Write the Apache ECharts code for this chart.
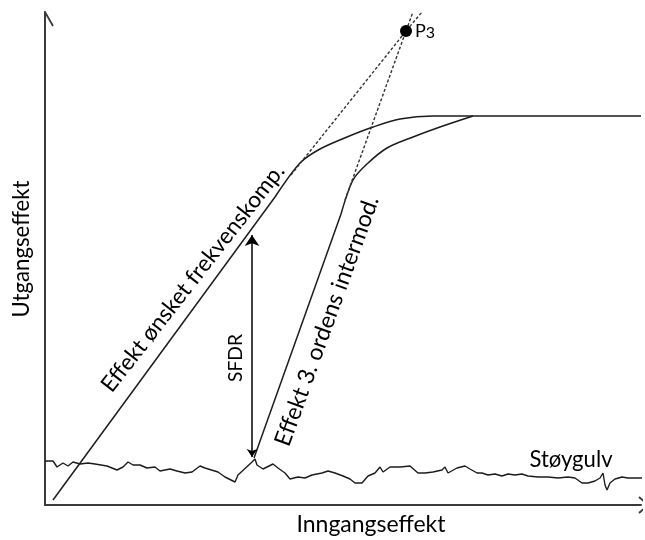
<!DOCTYPE html>
<html><head><meta charset="utf-8">
<script src="https://cdn.jsdelivr.net/npm/echarts/dist/echarts.min.js"></script>
<style>html,body{margin:0;padding:0;background:#fff}#c{width:645px;height:540px}</style>
</head><body><div id="c"></div>
<script>
// Diagram units: x = input power, y = output power (arbitrary linear units)
const desiredLine = [[8,5],[230,308]];
const desiredCurve = [[230,308],[255,342],[275,356],[302,368],[328,378],[355,386],[388,389],[428,389],[596,389]];
const desiredExtension = [[246,330],[361,474],[377,493]];
const im3Line = [[209,47],[296,291]];
const im3Curve = [[296,291],[308,325],[322,341],[342,357],[368,368],[395,378],[428,389]];
const im3Extension = [[300,305],[361,474],[368,493]];
const interceptPoint = [[361,474]];
const sfdrRange = [[207,48],[207,270]];
const noiseFloor = [[0,44],[8,44],[12,38],[18,42],[23,39],[28,43],[35,41],[43,42],[50,41],[62,39],[72,35],[78,38],[83,43],[88,40],[95,40],[102,37],[110,38],[115,34],[125,36],[132,34],[140,32],[147,33],[155,39],[160,37],[173,33],[180,28],[190,23],[193,30],[207,43],[210,46],[212,40],[218,36],[222,38],[228,41],[233,37],[240,32],[245,26],[253,28],[260,27],[267,30],[277,32],[283,34],[290,32],[292,30],[298,29],[305,26],[310,22],[317,22],[323,29],[330,32],[335,38],[338,33],[345,38],[355,38],[365,39],[373,32],[380,32],[388,33],[397,35],[400,38],[403,32],[412,37],[420,39],[425,36],[432,32],[437,32],[443,30],[450,31],[457,29],[463,31],[470,30],[477,31],[483,29],[493,28],[503,28],[513,27],[523,28],[530,27],[537,22],[543,22],[550,24],[555,27],[558,32],[560,20],[562,15],[565,22],[570,26],[577,28],[583,27],[590,27],[597,27]];
const yArrow = [[-8,479],[0,493],[8,479]];
const xArrow = [[594,8],[603,0],[594,-8]];

const FONT = 'Lato';
const INK = '#1c1c1c';
const texts = [
  {t:'Utgangseffekt', at:[-23,256], rot:90, w:137},
  {t:'Inngangseffekt', at:[326,-20], rot:0, w:149},
  {t:'Støygulv', at:[526,45], rot:0, w:83},
  {t:'SFDR', at:[191,147], rot:90, w:48},
  {t:'Effekt ønsket frekvenskomp.', at:[148,227], rot:52, w:282},
  {t:'Effekt 3. ordens intermod.', at:[282,184], rot:70, w:265}
];
const mctx = document.createElement('canvas').getContext('2d');
function fit(text, w){ mctx.font = '100px ' + FONT; return 100*w/mctx.measureText(text).width; }

const chart = echarts.init(document.getElementById('c'), null, {renderer:'canvas'});
const solid = {color:INK, width:1.5, opacity:1};
const dashed = {color:'#333', width:1.4, type:[3,2], opacity:1};
function line(data, style, smooth){
  return {type:'line', data, showSymbol:false, symbol:'none', clip:false, lineStyle:style, smooth:smooth||false, z:3};
}
chart.setOption({
  animation:false,
  backgroundColor:'#fff',
  grid:{left:45, top:12, right:4, bottom:35},
  xAxis:{type:'value', min:0, max:596, axisLine:{show:true, onZero:false, lineStyle:{color:'#3a3a3a', width:2}}, axisTick:{show:false}, axisLabel:{show:false}, splitLine:{show:false}},
  yAxis:{type:'value', min:0, max:493, axisLine:{show:true, onZero:false, lineStyle:{color:'#3a3a3a', width:2}}, axisTick:{show:false}, axisLabel:{show:false}, splitLine:{show:false}},
  series:[
    line(desiredLine, solid),
    line(desiredCurve, solid, 0.3),
    line(desiredExtension, dashed),
    line(im3Line, solid),
    line(im3Curve, solid, 0.3),
    line(im3Extension, dashed),
    line(noiseFloor, {color:INK, width:1.4}),
    line(yArrow, {color:'#3a3a3a', width:1.8}),
    line(xArrow, {color:'#3a3a3a', width:1.8}),
    {type:'lines', coordinateSystem:'cartesian2d', data:[{coords:sfdrRange}], symbol:['arrow','arrow'], symbolSize:[8,11], lineStyle:{color:'#000', width:1.5, opacity:1}, itemStyle:{color:'#000'}, z:4},
    {type:'scatter', data:interceptPoint, symbolSize:12, itemStyle:{color:'#000', opacity:1}, z:5,
     label:{show:true, position:'right', distance:3, formatter:'{a|P}{b|3}', color:'#000',
       rich:{a:{fontFamily:FONT, fontSize:18, color:'#000'}, b:{fontFamily:FONT, fontSize:16, color:'#000', padding:[4,0,0,0]}}}}
  ]
});
chart.setOption({graphic: texts.map(o => {
  const p = chart.convertToPixel({gridIndex:0}, o.at);
  return {type:'text', x:p[0], y:p[1], rotation:o.rot*Math.PI/180, z:10,
    style:{text:o.t, fill:'#000', font: fit(o.t,o.w).toFixed(1)+'px '+FONT, align:'center', verticalAlign:'middle'}};
})});
</script></body></html>
